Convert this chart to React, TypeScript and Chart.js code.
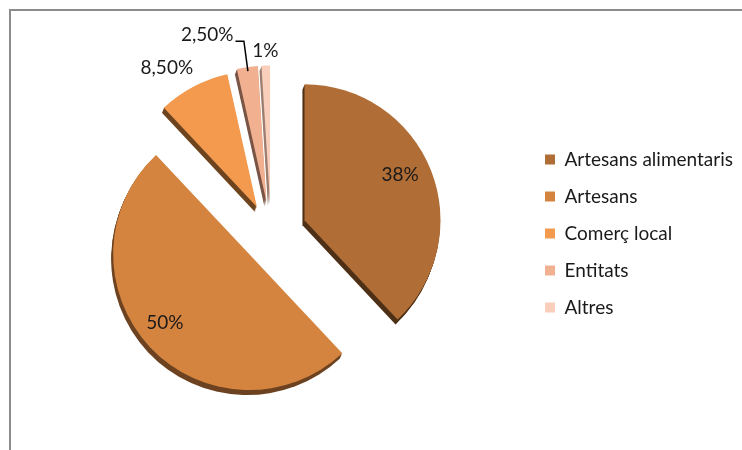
import React, { useEffect, useRef } from "react";
import { Chart, registerables } from "chart.js";

Chart.register(...registerables);

// ---- data ----
const categories = ["Artesans alimentaris", "Artesans", "Comerç local", "Entitats", "Altres"];
const shares = [38, 50, 8.5, 2.5, 1];

// ---- styles ----
const sliceColors = ["#B06D35", "#D4843F", "#F39A4E", "#F1B190", "#F9CFBC"];
const rimColors = ["#4E3016", "#6C4220", "#6E441F", "#7A5545", "#9C7E70"];
const explode = [36, 30, 30, 32, 32];
const labelRadius = [0.78, 0.8, 1.22, 1.3, 1.11];
const labelShiftDeg = [-4, 4, -5, -11.5, 0];
const leader = [false, false, false, true, false];
const FONT = "Lato";

const fmt = (v: number) =>
  Number.isInteger(v) ? `${v}%` : v.toFixed(2).replace(".", ",") + "%";

const explodePlugin = {
  id: "explode",
  afterDatasetUpdate(chart: any, args: any) {
    const meta = chart.getDatasetMeta(args.index);
    const { left, right, top, bottom } = chart.chartArea;
    const cx = (left + right) / 2;
    const cy = (top + bottom) / 2;
    meta.data.forEach((arc: any, i: number) => {
      const mid = (arc.startAngle + arc.endAngle) / 2;
      arc.x = cx + Math.cos(mid) * explode[i];
      arc.y = cy + Math.sin(mid) * explode[i];
    });
  },
};

const depthPlugin = {
  id: "depth",
  beforeDatasetsDraw(chart: any) {
    const ctx = chart.ctx;
    const meta = chart.getDatasetMeta(0);
    meta.data.forEach((arc: any, i: number) => {
      const { x, y, startAngle, endAngle, outerRadius } = arc;
      ctx.save();
      ctx.fillStyle = rimColors[i];
      for (let k = 1; k <= 5; k++) {
        const dx = -0.4 * k;
        const dy = k;
        ctx.beginPath();
        ctx.moveTo(x + dx, y + dy);
        ctx.arc(x + dx, y + dy, outerRadius, startAngle, endAngle);
        ctx.closePath();
        ctx.fill();
      }
      ctx.restore();
    });
  },
};

const labelPlugin = {
  id: "sliceLabels",
  afterDatasetsDraw(chart: any) {
    const ctx = chart.ctx;
    const meta = chart.getDatasetMeta(0);
    ctx.save();
    ctx.font = `19px ${FONT}`;
    ctx.fillStyle = "#1a1a1a";
    ctx.textAlign = "center";
    ctx.textBaseline = "middle";
    meta.data.forEach((arc: any, i: number) => {
      const { x, y, startAngle, endAngle, outerRadius } = arc;
      const mid = (startAngle + endAngle) / 2;
      const a = mid + (labelShiftDeg[i] * Math.PI) / 180;
      const lx = x + Math.cos(a) * outerRadius * labelRadius[i];
      const ly = y + Math.sin(a) * outerRadius * labelRadius[i];
      const text = fmt(shares[i]);
      ctx.fillText(text, lx, ly);
      if (leader[i]) {
        const w = ctx.measureText(text).width;
        const px = x + Math.cos(mid) * outerRadius * 0.97;
        const py = y + Math.sin(mid) * outerRadius * 0.97;
        ctx.beginPath();
        ctx.strokeStyle = "#000";
        ctx.lineWidth = 1.5;
        ctx.moveTo(lx + w / 2 + 2, ly + 6);
        ctx.lineTo(px - 4, ly + 6);
        ctx.lineTo(px, py);
        ctx.stroke();
      }
    });
    ctx.restore();
  },
};

export default function App() {
  const ref = useRef<HTMLCanvasElement | null>(null);

  useEffect(() => {
    if (!ref.current) return;
    const chart = new Chart(ref.current, {
      type: "pie",
      data: {
        labels: categories,
        datasets: [
          {
            data: shares,
            backgroundColor: sliceColors,
            borderWidth: 0,
            radius: 136,
          } as any,
        ],
      },
      options: {
        responsive: false,
        animation: false,
        events: [],
        radius: 136,
        layout: { padding: { left: 15, right: 5, top: 31, bottom: 14 } },
        plugins: {
          legend: {
            position: "right",
            maxWidth: 210,
            labels: {
              boxWidth: 10,
              boxHeight: 10,
              padding: 18,
              color: "#1a1a1a",
              font: { family: FONT, size: 19 },
            },
          },
          tooltip: { enabled: false },
        },
      } as any,
      plugins: [explodePlugin, depthPlugin, labelPlugin],
    });
    return () => chart.destroy();
  }, []);

  return (
    <div style={{ position: "absolute", left: 0, top: 0, width: 742, height: 450, background: "#fff" }}>
      <div
        style={{
          position: "absolute",
          left: 9,
          top: 9,
          width: 733,
          height: 441,
          borderLeft: "2px solid #8c8c8c",
          borderTop: "2px solid #8c8c8c",
          boxSizing: "border-box",
        }}
      />
      <canvas
        ref={ref}
        width={742}
        height={450}
        style={{ position: "absolute", left: 0, top: 0, width: 742, height: 450 }}
      />
    </div>
  );
}
